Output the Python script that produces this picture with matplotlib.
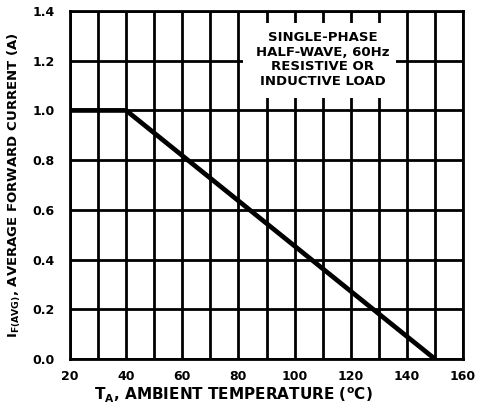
import matplotlib
matplotlib.use("Agg")
import matplotlib.pyplot as plt
import numpy as np

# Data
temp_c = [20, 40, 150]
current_a = [1.0, 1.0, 0.0]
x_ticks = [20, 40, 60, 80, 100, 120, 140, 160]
y_ticks = [0.0, 0.2, 0.4, 0.6, 0.8, 1.0, 1.2, 1.4]
x_grid = list(range(20, 161, 10))
note_lines = ["SINGLE-PHASE", "HALF-WAVE, 60Hz", "RESISTIVE OR", "INDUCTIVE LOAD"]

plt.rcParams['font.family'] = ['DejaVu Sans']
plt.rcParams['font.weight'] = 'bold'
plt.rcParams['mathtext.fontset'] = 'custom'
plt.rcParams['mathtext.rm'] = 'DejaVu Sans:bold'
plt.rcParams['mathtext.bf'] = 'DejaVu Sans:bold'
plt.rcParams['mathtext.it'] = 'DejaVu Sans:bold'

fig = plt.figure(figsize=(4.8, 4.05), dpi=100)
ax = fig.add_axes([70/480, 1-359/405, 393/480, 348/405])

ax.set_xlim(20, 160)
ax.set_ylim(0, 1.4)
for xv in x_grid:
    ax.axvline(xv, color='black', lw=2.0, zorder=1)
for yv in y_ticks:
    ax.axhline(yv, color='black', lw=2.0, zorder=1)

# white note box
ax.fill_between([81.5, 136], 1.05, 1.35, color='white', zorder=2, lw=0)
ax.text(110.0, 1.205, "\n".join(note_lines), ha='center', va='center',
        fontsize=9.5, fontweight='bold', linespacing=1.15, zorder=3)

ax.plot(temp_c, current_a, color='black', lw=3.4, solid_capstyle='butt', zorder=4)

ax.set_xticks(x_ticks)
ax.set_yticks(y_ticks)
ax.set_xticklabels([str(v) for v in x_ticks], fontsize=9, fontweight='bold')
ax.set_yticklabels([f"{v:.1f}" for v in y_ticks], fontsize=9, fontweight='bold')
ax.tick_params(axis='x', length=0, pad=8)
ax.tick_params(axis='y', length=0, pad=11)
for s in ax.spines.values():
    s.set_linewidth(2.0)
    s.set_zorder(5)

ax.set_xlabel(r"T$_\mathrm{A}$, AMBIENT TEMPERATURE ($^\mathrm{o}$C)",
              fontsize=11, fontweight='bold')
ax.xaxis.set_label_coords(0.415, -0.0755)
ax.set_ylabel(r"I$_\mathrm{F(AVG)}$, AVERAGE FORWARD CURRENT (A)",
              fontsize=9.5, fontweight='bold')
ax.yaxis.set_label_coords(-0.12, 0.5)

fig.savefig("out.png", dpi=100, facecolor='white')
